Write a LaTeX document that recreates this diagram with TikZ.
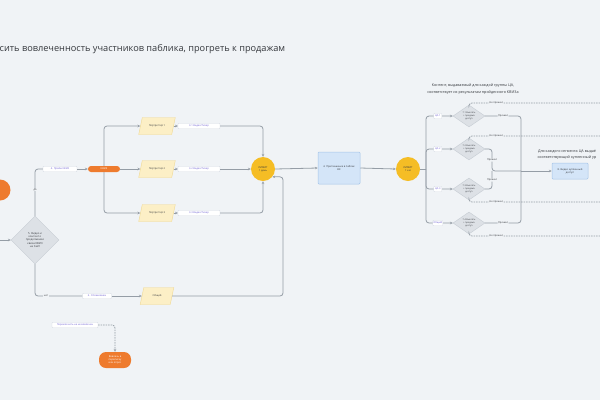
\documentclass[tikz,border=0pt]{standalone}
\usepackage{fontspec}
\setmainfont{Open Sans}
\usetikzlibrary{shapes.geometric,arrows.meta}
\definecolor{bg}{HTML}{F0F3F6}
\definecolor{lc}{HTML}{959DA6}
\definecolor{orng}{HTML}{EE7B2E}
\definecolor{ylw}{HTML}{F5BD25}
\definecolor{pgf}{HTML}{FCEFC6}
\definecolor{pgd}{HTML}{F0D993}
\definecolor{blf}{HTML}{D4E5F8}
\definecolor{bld}{HTML}{A5C4E8}
\definecolor{dif}{HTML}{DDE1E6}
\definecolor{did}{HTML}{C6CCD3}
\definecolor{lt}{HTML}{6D5FD3}
\definecolor{lb}{HTML}{D3D9E2}
\definecolor{dk}{HTML}{35383D}
\tikzset{
 conn/.style={draw=lc, line width=0.8pt, rounded corners=3pt},
 arr/.style={conn, -{Stealth[length=2.8pt,width=2.5pt]}},
 dconn/.style={conn, dash pattern=on 1.5pt off 1pt},
 tiny/.style={font=\fontsize{2.5}{3}\selectfont},
 lab/.style={tiny, fill=white, draw=lb, line width=0.3pt, rounded corners=0.8pt, text=lt, inner sep=0.6pt, minimum height=5.5pt},
 wlab/.style={tiny, fill=bg, text=dk, inner sep=0.5pt},
 pgshape/.style={fill=pgf, draw=pgd, line width=0.4pt},
 pgtext/.style={tiny, text=dk, minimum height=17pt, inner sep=0pt},
 dia/.style={diamond, fill=dif, draw=did, line width=0.4pt, inner sep=0pt, tiny, text=dk, align=center},
 sdia/.style={dia, minimum width=32pt, minimum height=22pt, aspect=1.45, font=\fontsize{2.2}{2.6}\selectfont},
 blbox/.style={rectangle, fill=blf, draw=bld, line width=0.5pt, rounded corners=1pt, inner sep=1pt, tiny, text=dk, align=center},
 lim/.style={circle, fill=ylw, minimum size=24pt, inner sep=0pt, tiny, text=dk, align=center},
 obox/.style={rectangle, fill=orng, text=white, tiny, align=center, inner sep=0.5pt}
}
% parallelogram: name, x, y, width, text
\newcommand{\pgr}[5]{%
 \filldraw[pgshape] (#2-#4/2+1.8,#3-8.5) -- (#2+#4/2+1.8,#3-8.5) -- (#2+#4/2-1.8,#3+8.5) -- (#2-#4/2-1.8,#3+8.5) -- cycle;
 \node[pgtext, minimum width=#4pt] (#1) at (#2,#3) {#5};}
\begin{document}
\begin{tikzpicture}[x=1pt,y=-1pt]
\fill[bg] (0,0) rectangle (600,400);
\useasboundingbox (0,0) rectangle (600,400);

% title
\node[anchor=west, inner sep=0pt, text=dk, font=\fontsize{9.2}{10}\selectfont] (title) at (-0.5,49) {сить вовлеченность участников паблика, прогреть к продажам};

% left start
\node[circle, fill=orng, minimum size=21pt, inner sep=0pt] (start) at (0,190) {};
\coordinate (inL) at (-2,240);
\node[dia, minimum width=48pt, minimum height=48pt, font=\fontsize{2.7}{3.3}\selectfont] (d5) at (35,240) {5. Видео и\\ контент о\\ продолжении\\ квиза КВИЗ\\ на Сайт};
\draw[arr] (inL) -- (d5.west);

% upper branch
\node[lab, minimum width=34pt] (l4) at (60,169) {4. Прайм КВИЗ};
\node[obox, minimum width=32pt, minimum height=6pt, rounded corners=3pt] (kviz) at (104,169) {КВИЗ};
\draw[conn] (d5.north) |- (l4.west);
\node[wlab] (da) at (35,190) {да};
\draw[arr] (l4.east) -- (kviz.west);

\pgr{p1}{157}{126}{33}{Портрет ЦА 1}
\pgr{p2}{157}{169}{33}{Портрет ЦА 2}
\pgr{p3}{157}{213}{33}{Портрет ЦА 3}
\node[lab, minimum width=42pt] (l31) at (199,126) {3.1 Видео/Тизер};
\node[lab, minimum width=42pt] (l32) at (199,169) {3.2 Видео/Тизер};
\node[lab, minimum width=42pt] (l33) at (199,213) {3.3 Видео/Тизер};
\node[lim] (c1) at (263,169) {ЛИМИТ\\ 1 день};

\draw[arr] (kviz.north) |- (p1.west);
\draw[arr] (kviz.east) -- (p2.west);
\draw[arr] (kviz.south) |- (p3.west);
\draw[arr] (p1.east) -- (l31.west);
\draw[arr] (p2.east) -- (l32.west);
\draw[arr] (p3.east) -- (l33.west);
\draw[arr] (l31.east) -| (c1.north);
\draw[arr] (l32.east) -- (c1.west);
\draw[arr] (l33.east) -| (c1.south);

% lower branch
\node[lab, minimum width=29pt] (l6) at (97,296) {6. Оплакиваем};
\pgr{obsh}{157}{296}{30}{Общий}
\draw[conn] (d5.south) |- (l6.west);
\node[wlab] (net) at (46,296) {нет};
\draw[arr] (l6.east) -- (obsh.west);
\draw[arr] (obsh.east) -- (283,296) |- (c1.-40);

% middle
\node[blbox, minimum width=42pt, minimum height=32pt] (b4) at (339,168) {4. Приглашение в паблик\\ ВК};
\node[lim] (c2) at (408,169) {ЛИМИТ\\ 1 час};
\draw[arr] (c1.east) -- (b4.west);
\draw[arr] (b4.east) -- (c2.west);

% right side
\node[text=dk, align=center, font=\fontsize{3.7}{6.5}\selectfont] (note1) at (473,89) {Контент, выдаваемый для каждой группы ЦА,\\ соответствует их результатам пройденного КВИЗа};
\node[sdia] (d71) at (469,116) {7.1 Выслать\\ + продажа\\ доступ};
\node[sdia] (d72) at (469,149) {7.2 Выслать\\ + продажа\\ доступ};
\node[sdia] (d73) at (469,189) {7.3 Выслать\\ + продажа\\ доступ};
\node[sdia] (d74) at (469,223) {7.4 Выслать\\ + продажа\\ доступ};

\draw[conn] (c2.east) -- (426,169);
\draw[arr] (426,169) |- node[lab, pos=0.72, minimum width=8pt]{ЦА 1} (d71.west);
\draw[arr] (426,169) |- node[lab, pos=0.72, minimum width=8pt]{ЦА 2} (d72.west);
\draw[arr] (426,169) |- node[lab, pos=0.72, minimum width=8pt]{ЦА 3} (d73.west);
\draw[arr] (426,169) |- node[lab, pos=0.72, minimum width=9pt]{Общий} (d74.west);

% passed
\node[blbox, minimum width=36pt, minimum height=16pt] (b8) at (570,171) {8. Видео купленный\\ доступ};
\node[text=dk, align=center, font=\fontsize{3.7}{6}\selectfont] (note2) at (567,155) {Для каждого сегмента ЦА выдаё\\ соответствующий купленный ур};
\draw[conn] (d71.east) -- node[wlab]{Прошел} (521,116) -- (521,223) -- node[wlab]{Прошел} (d74.east);
\draw[conn] (d72.east) -- (492,149) -- node[wlab]{Прошел} (492,171) -- (521,171);
\draw[conn] (d73.east) -- (492,189) -- node[wlab]{Прошел} (492,171);
\draw[arr] (521,171) -- (b8.west);

% not passed
\draw[dconn] (d71.north) |- node[wlab, pos=0.6]{Не прошел} (605,103);
\draw[dconn] (d72.north) |- node[wlab, pos=0.6]{Не прошел} (605,136);
\draw[dconn] (d73.south) |- node[wlab, pos=0.6]{Не прошел} (605,202);
\draw[dconn] (d74.south) |- node[wlab, pos=0.6]{Не прошел} (605,236);

% bottom left
\node[lab, minimum width=46pt] (lp) at (75,325) {Переключить на не вовлечен};
\node[obox, minimum width=32pt, minimum height=16pt, rounded corners=7pt] (o2) at (115,360) {Вовлечь в\\ переписку\\ или опрос};
\draw[dconn, -{Stealth[length=2.8pt,width=2.5pt]}] (lp.east) -| (o2.north);
\end{tikzpicture}
\end{document}
